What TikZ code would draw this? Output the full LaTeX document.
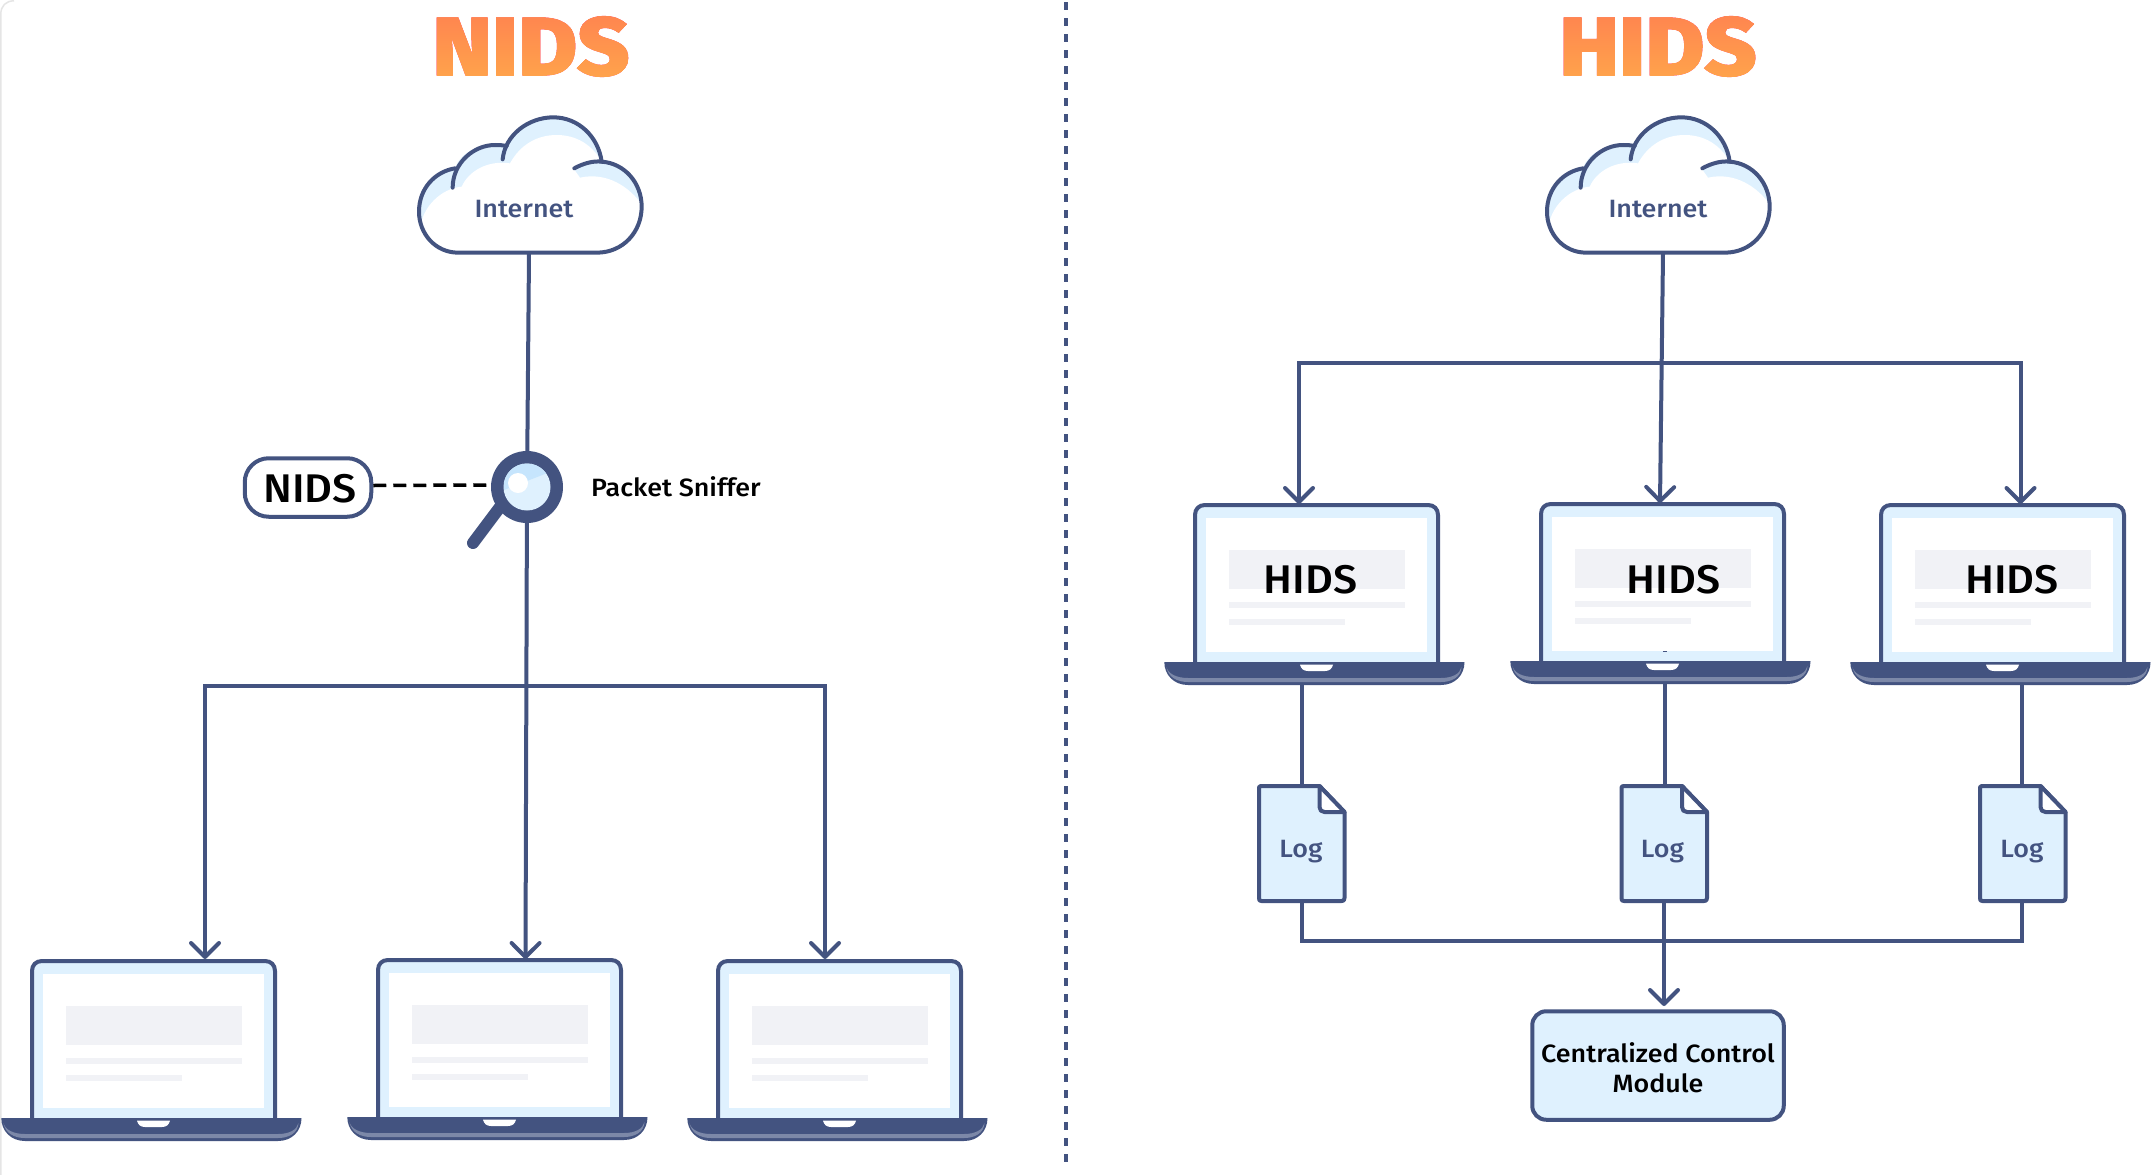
\documentclass[tikz,border=0pt]{standalone}
\usepackage{fontspec}
\setmainfont[FakeStretch=1.075]{Fira Sans Medium}
\newfontfamily\fxb[FakeStretch=1.1,FakeBold=1.5]{Fira Sans ExtraBold}
\usetikzlibrary{arrows.meta}
\definecolor{ink}{HTML}{435380}
\definecolor{pale}{HTML}{DFF1FE}
\definecolor{deep}{HTML}{C6E5FD}
\definecolor{bar}{HTML}{F1F2F6}
\definecolor{strip}{HTML}{7C88A8}
\definecolor{edge}{HTML}{E5E5E5}
\definecolor{tonetop}{HTML}{FF8450}
\definecolor{tonebot}{HTML}{FFA44B}
\tikzset{
  wire/.style={draw=ink,line width=4pt},
  arrowwire/.style={wire,-{Straight Barb[length=14pt,width=28pt,round]}},
  outline/.style={draw=ink,line width=4pt,line cap=round,line join=round},
  lbl/.style={inner sep=0pt,anchor=base,align=center},
  inklbl/.style={lbl,text=ink,font=\fontsize{25}{30}\selectfont},
  hidslbl/.style={lbl,text=black,font=\fontsize{40}{48}\selectfont},
  titlelbl/.style={lbl,text=black,font=\fxb\fontsize{82}{90}\selectfont},
}
\newcommand{\mycloud}[1]{%
  \begin{scope}[shift={(#1,0)},scale=1/3]
    \begin{scope}
      \clip (235,758) .. controls (165,758) and (117,700) .. (117,635) .. controls (117,565) and (165,515) .. (225,505) .. controls (240,460) and (290,435) .. (345,435) .. controls (360,435) and (370,436) .. (380,438) .. controls (405,385) and (460,352) .. (520,352) .. controls (595,352) and (655,410) .. (665,485) .. controls (735,490) and (785,550) .. (785,620) .. controls (785,695) and (730,758) .. (650,758) -- cycle;
      \fill[pale] (100,340) rectangle (800,770);
      \fill[white] (120,690) .. controls (125,620) and (185,565) .. (245,560) .. controls (265,515) and (320,480) .. (390,490) .. controls (420,435) and (470,405) .. (530,405) .. controls (590,405) and (635,435) .. (662,480) -- (620,490) -- (580,505) -- (600,533) .. controls (680,515) and (750,560) .. (790,620) -- (790,770) -- (100,770) -- cycle;
    \end{scope}
    \draw[outline] (583,505) .. controls (610,490) and (640,482) .. (665,485) .. controls (735,490) and (785,550) .. (785,620) .. controls (785,695) and (730,758) .. (650,758) -- (235,758) .. controls (165,758) and (117,700) .. (117,635) .. controls (117,565) and (165,515) .. (225,505);
    \draw[outline] (218,563) .. controls (218,490) and (280,435) .. (345,435) .. controls (360,435) and (370,436) .. (380,438);
    \draw[outline] (368,478) .. controls (375,405) and (445,352) .. (520,352) .. controls (595,352) and (655,410) .. (665,485);
  \end{scope}}
\newcommand{\mylaptop}[2]{%
  \begin{scope}[shift={(#1,#2)}]
    \draw[outline,fill=pale,line cap=butt] (32,1120) -- (32,972) .. controls (32,966) and (36,962) .. (42,962) -- (265,962) .. controls (271,962) and (275,966) .. (275,972) -- (275,1120);
    \fill[white] (43,975) rectangle (264,1109);
    \fill[bar] (66,1007) rectangle (241.5,1046);
    \fill[bar] (66,1059) rectangle (241.5,1065);
    \fill[bar] (66,1076) rectangle (182,1082);
    \fill[ink] (1.3,1119) -- (301.5,1119) .. controls (301.5,1132) and (292,1142) .. (278,1142) -- (25,1142) .. controls (11,1142) and (1.3,1132) .. (1.3,1119) -- cycle;
    \fill[strip] (3.5,1124) .. controls (5,1131) and (14,1135) .. (25,1135) -- (278,1135) .. controls (289,1135) and (297,1131) .. (298.5,1124) .. controls (298,1134) and (289,1139) .. (278,1139) -- (25,1139) .. controls (14,1139) and (5,1134) .. (3.5,1124) -- cycle;
    \fill[white] (137,1121.7) -- (170,1121.7) .. controls (169,1126) and (166,1128) .. (162,1128) -- (145,1128) .. controls (141,1128) and (138,1126) .. (137,1121.7) -- cycle;
  \end{scope}}
\newcommand{\mylog}[1]{%
  \begin{scope}[xshift=#1pt,yshift=2pt]
    \draw[outline,fill=pale] (1259.5,790) .. controls (1259.5,788.5) and (1260,788) .. (1262,788) -- (1320,788) -- (1345,814) -- (1345,900) .. controls (1345,902.5) and (1344,903) .. (1342,903) -- (1262,903) .. controls (1260,903) and (1259.5,902.5) .. (1259.5,900) -- cycle;
    \draw[outline,fill=white] (1320,788) -- (1320,809) .. controls (1320,812) and (1322,814) .. (1325,814) -- (1345,814) -- cycle;
  \end{scope}}
\begin{document}
\begin{tikzpicture}[x=1pt,y=-1pt]
\useasboundingbox (0,0) rectangle (2152,1175);
\fill[white] (0,0) rectangle (2152,1175);
\draw[edge,line width=1.5pt] (0.8,1175) -- (0.8,14) .. controls (0.8,6) and (6,0.8) .. (14,0.8);
% named connection points
\coordinate (cloudA) at (529,253);
\coordinate (cloudB) at (1663,253);
\coordinate (tipA) at (205,959);
\coordinate (tipB) at (525.5,959);
\coordinate (tipC) at (825,959);
\coordinate (branchA) at (527,685.5);
\coordinate (tipD) at (1299,504);
\coordinate (tipE) at (1660,503);
\coordinate (tipF) at (2020.5,504);
\coordinate (branchB) at (1662,363);
\coordinate (lapD) at (1302,684);
\coordinate (lapE) at (1664.5,684);
\coordinate (lapF) at (2022,684);
\coordinate (logDtop) at (1302,786);
\coordinate (logEtop) at (1664.5,786);
\coordinate (logFtop) at (2022,786);
\coordinate (logDbot) at (1302,901);
\coordinate (logEbot) at (1664,901);
\coordinate (logFbot) at (2022,901);
\coordinate (merge) at (1664,941);
\coordinate (tipG) at (1664,1006);
\coordinate (divTop) at (1066,2);
\coordinate (divBot) at (1066,1162);
% divider
\draw[ink,line width=4pt,dash pattern=on 8pt off 8pt] (divTop) -- (divBot);
% boxes that wires attach to
\node[circle,minimum size=72pt,inner sep=0pt] (lens) at (527,487) {};
\node[draw=ink,line width=4pt,fill=white,rounded corners=24pt,minimum width=126.5pt,minimum height=58.5pt,inner sep=0pt] (nidsbox) at (308,487.5) {};
\node[draw=ink,line width=4pt,fill=pale,rounded corners=14pt,minimum width=251.5pt,minimum height=108.5pt,inner sep=0pt] (ccm) at (1658,1065.5) {};
% wires
\draw[wire] (cloudA) -- (lens);
\draw[arrowwire] (lens) -- (tipB);
\draw[arrowwire] (branchA) -| (tipA);
\draw[arrowwire] (branchA) -| (tipC);
\draw[arrowwire] (cloudB) -- (tipE);
\draw[arrowwire] (branchB) -| (tipD);
\draw[arrowwire] (branchB) -| (tipF);
\draw[wire] (lapD) -- (logDtop);
\draw[wire] (lapE) -- (logEtop);
\draw[wire] (lapF) -- (logFtop);
\draw[wire] (logDbot) |- (merge);
\draw[wire] (logFbot) |- (merge);
\draw[arrowwire] (logEbot) -- (tipG);
\draw[black,line width=3.5pt,dash pattern=on 13pt off 7pt] ([yshift=2pt]nidsbox.east) -- ([yshift=2pt]lens.west);
% titles with gradient
\node[titlelbl] (titleN) at (531,75) {NIDS};
\node[titlelbl] (titleH) at (1658,75) {HIDS};
\begin{scope}[blend mode=lighten]
  \shade[top color=tonetop,bottom color=tonebot] (400,12) rectangle (680,80);
  \shade[top color=tonetop,bottom color=tonebot] (1530,12) rectangle (1800,80);
\end{scope}
% clouds
\mycloud{380}
\mycloud{1508}
\node[inklbl] (inetA) at (524,217) {Internet};
\node[inklbl] (inetB) at (1658,217) {Internet};
% magnifier
\draw[ink,line width=12pt,line cap=round] (500,507) -- (473,543);
\fill[ink] (lens) circle[radius=36pt];
\fill[pale] (lens) circle[radius=23.5pt];
\begin{scope}
  \clip (lens) circle[radius=23.5pt];
  \fill[deep] (504,490) -- (550,472) -- (550,460) -- (504,460) -- cycle;
\end{scope}
\fill[white] (518,483) circle[radius=10pt];
\node[lbl,text=black,font=\fontsize{25}{30}\selectfont] (sniff) at (676,496.5) {Packet Sniffer};
\node[hidslbl] (nidslbl) at (310,502) {NIDS};
% laptops
\mylaptop{0}{-1}
\mylaptop{346}{-2}
\mylaptop{686}{-1}
\mylaptop{1163}{-457}
\mylaptop{1509}{-458}
\mylaptop{1849}{-457}
\node[hidslbl] (hidsD) at (1310.5,593) {HIDS};
\node[hidslbl] (hidsE) at (1673.5,593) {HIDS};
\node[hidslbl] (hidsF) at (2012,593) {HIDS};
% logs
\mylog{-0.5}
\mylog{362}
\mylog{720.5}
\node[inklbl] (logD) at (1301,857.5) {Log};
\node[inklbl] (logE) at (1662.5,857.5) {Log};
\node[inklbl] (logF) at (2022,857.5) {Log};
\node[lbl,text=black,font=\fontsize{25}{30}\selectfont] (ccmA) at (1658,1062) {Centralized Control};
\node[lbl,text=black,font=\fontsize{25}{30}\selectfont] (ccmB) at (1658,1092) {Module};
\fill[ink] (1663,650.5) rectangle (1667,651.5);
\end{tikzpicture}
\end{document}
